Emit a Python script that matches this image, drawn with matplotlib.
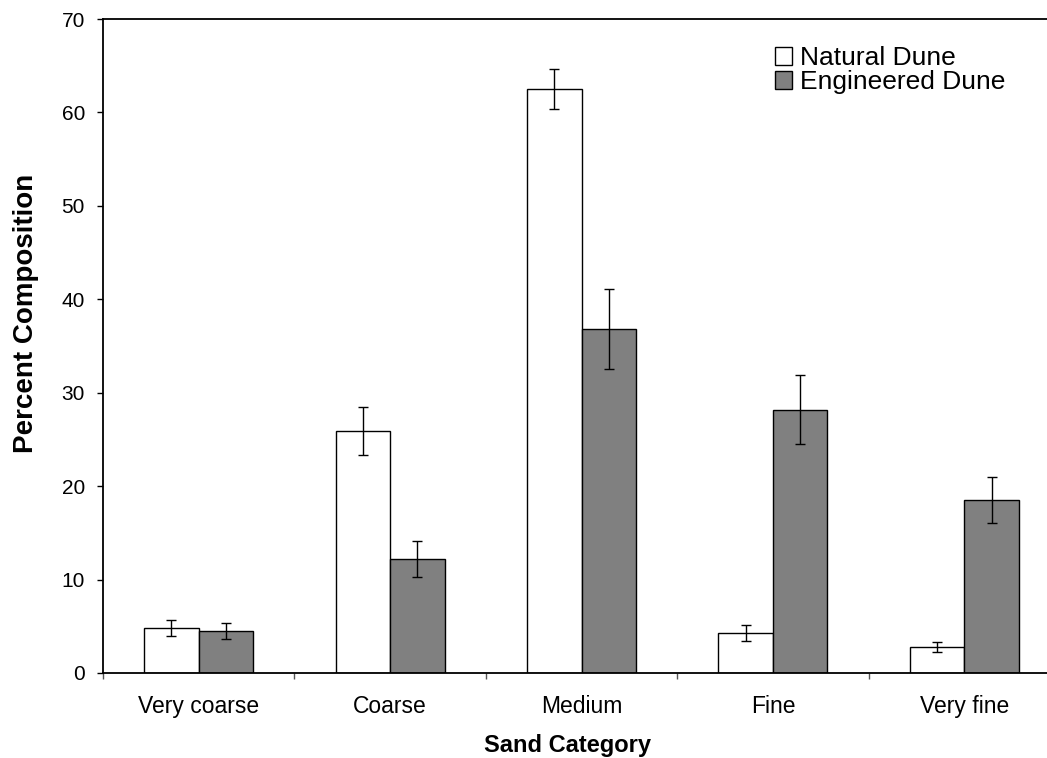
import matplotlib
matplotlib.use('Agg')
import matplotlib.pyplot as plt
from matplotlib.patches import Patch
import numpy as np

# data
categories = ['Very coarse', 'Coarse', 'Medium', 'Fine', 'Very fine']
natural = [4.8, 25.9, 62.5, 4.3, 2.8]
natural_err = [0.85, 2.55, 2.15, 0.84, 0.55]
engineered = [4.5, 12.2, 36.8, 28.2, 18.5]
engineered_err = [0.9, 1.95, 4.3, 3.7, 2.45]
series_names = ['Natural Dune', 'Engineered Dune']

plt.rcParams['font.family'] = ['Liberation Sans', 'DejaVu Sans']

fig = plt.figure(figsize=(10.47, 7.58), dpi=100)
# right edge of the plot area runs past the picture, as in the original
ax = fig.add_axes([103/1047, 85/758, 957/1047, 654/758])

x = np.arange(len(categories))
w = 0.285
errkw = dict(ecolor='black', elinewidth=1.0, capsize=3.6, capthick=1.0)
ax.bar(x - w/2, natural, w, yerr=natural_err, color='white',
       edgecolor='black', linewidth=1.0, error_kw=errkw, zorder=2)
ax.bar(x + w/2, engineered, w, yerr=engineered_err, color='#808080',
       edgecolor='black', linewidth=1.0, error_kw=errkw, zorder=2)

ax.set_xlim(-0.5, len(categories) - 0.5)
ax.set_ylim(0, 70)
ax.set_yticks(range(0, 71, 10))

# category boundaries get the tick marks, names sit in between
ax.set_xticks(np.arange(-0.5, len(categories), 1.0))
ax.set_xticklabels([])
ax.set_xticks(x, minor=True)
ax.set_xticklabels(categories, minor=True)
ax.tick_params(axis='x', which='major', length=4.5, width=1.0, color='#555555')
ax.tick_params(axis='x', which='minor', length=0, pad=16, labelsize=16.5)
ax.tick_params(axis='y', length=4, width=1.0, pad=9, labelsize=15)

for s in ax.spines.values():
    s.set_linewidth(1.3)

ax.set_xlabel('Sand Category', fontsize=17, fontweight='bold')
ax.xaxis.set_label_coords(0.485, -0.093)
ax.set_ylabel('Percent Composition', fontsize=20, fontweight='bold')
ax.yaxis.set_label_coords(-0.067, 0.55)

handles = [Patch(facecolor='white', edgecolor='black', linewidth=1.0),
           Patch(facecolor='#808080', edgecolor='black', linewidth=1.0)]
fig.legend(handles, series_names, loc='upper left',
           bbox_to_anchor=(775/1047, 1 - 46/758), frameon=False,
           fontsize=19, handlelength=0.65, handleheight=0.65,
           handletextpad=0.3, labelspacing=0.0, borderpad=0, borderaxespad=0)

fig.savefig('out.png', dpi=100)
